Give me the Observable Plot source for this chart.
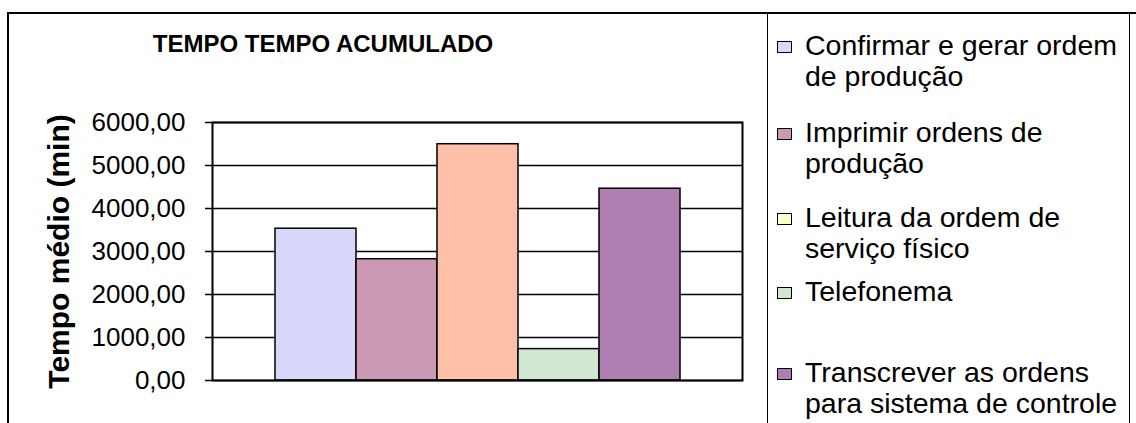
<!DOCTYPE html>
<html>
<head>
<meta charset="utf-8">
<script src="https://cdn.jsdelivr.net/npm/d3@7"></script>
<script src="https://cdn.jsdelivr.net/npm/@observablehq/plot@0.6"></script>
<style>
  html, body { margin: 0; padding: 0; background: #fff; width: 1136px; height: 423px; overflow: hidden; }
  body { font-family: "Liberation Sans", Arial, sans-serif; position: relative; }
  #outer { position: absolute; left: 7px; top: 12px; width: 1150px; height: 430px; border: 2px solid #000; box-sizing: border-box; }
  #title { position: absolute; left: 0; width: 646px; top: 32px; text-align: center; font-weight: bold; font-size: 24px; line-height: 1; color: #000; }
  #chart { position: absolute; left: 0; top: 0; }
  #chart svg { background: transparent !important; }
  #chart g[aria-label="y-axis label"] text { font-weight: bold; font-size: 30px; }
  #legend { position: absolute; left: 767px; top: 13px; width: 363px; height: 430px; border: 1.5px solid #000; box-sizing: border-box; background: #fff; }
  .item { position: absolute; left: 9px; font-size: 28.5px; line-height: 31px; color: #000; }
  .sw { position: absolute; left: 0; top: 11px; width: 15px; height: 12px; border: 1.5px solid #000; box-sizing: border-box; }
  .txt { position: absolute; left: 28px; white-space: nowrap; }
</style>
</head>
<body>
<div id="outer"></div>
<div id="title"></div>
<div id="chart"></div>
<div id="legend"></div>
<script>
const title = "TEMPO TEMPO ACUMULADO";
const yLabel = "Tempo médio (min)";
const series = [
  "Confirmar e gerar ordem de produção",
  "Imprimir ordens de produção",
  "Leitura da ordem de serviço físico",
  "Telefonema",
  "Transcrever as ordens para sistema de controle"
];
const legendLines = [
  ["Confirmar e gerar ordem", "de produção"],
  ["Imprimir ordens de", "produção"],
  ["Leitura da ordem de", "serviço físico"],
  ["Telefonema"],
  ["Transcrever as ordens", "para sistema de controle"]
];
const values = [3530, 2820, 5495, 730, 4460];
const barColors = ["#D8D8FA", "#CC99B4", "#FFBFA8", "#D1E7D1", "#B07FB1"];
const swatchColors = ["#D8D8FA", "#CC99B4", "#FFFFCC", "#D1E7D1", "#B07FB1"];
const yTicks = [0, 1000, 2000, 3000, 4000, 5000, 6000];
const legendTops = [16, 103, 188, 262, 343];

const data = series.map((s, i) => ({series: s, value: values[i]}));
const fmt = v => v.toFixed(2).replace(".", ",");

document.getElementById("title").textContent = title;

const chart = Plot.plot({
  width: 760,
  height: 423,
  marginLeft: 212,
  marginRight: 18,
  marginTop: 122,
  marginBottom: 43,
  style: {fontFamily: "Liberation Sans, Arial, sans-serif", background: "transparent", color: "#000"},
  x: {type: "band", domain: series, paddingInner: 0, paddingOuter: 0.74, axis: null},
  y: {domain: [0, 6000]},
  color: {domain: series, range: barColors},
  marks: [
    Plot.gridY(yTicks, {stroke: "#000", strokeOpacity: 1, strokeWidth: 1.5}),
    Plot.barY(data, {x: "series", y: "value", fill: "series", stroke: "#000", strokeWidth: 1.5}),
    Plot.frame({stroke: "#000", strokeWidth: 2}),
    Plot.axisY(yTicks, {
      tickSize: 7, tickPadding: 20, tickFormat: fmt, fontSize: 26,
      stroke: "#000", strokeWidth: 1.5,
      label: yLabel, labelAnchor: "center", labelOffset: 165, labelArrow: "none"
    })
  ]
});
document.getElementById("chart").appendChild(chart);

const legend = document.getElementById("legend");
legendLines.forEach((lines, i) => {
  const it = document.createElement("div");
  it.className = "item";
  it.style.top = legendTops[i] + "px";
  const sw = document.createElement("div");
  sw.className = "sw";
  sw.style.background = swatchColors[i];
  it.appendChild(sw);
  const t = document.createElement("div");
  t.className = "txt";
  t.innerHTML = lines.map(l => l.replace(/&/g, "&amp;")).join("<br>");
  it.appendChild(t);
  legend.appendChild(it);
});
</script>
</body>
</html>
